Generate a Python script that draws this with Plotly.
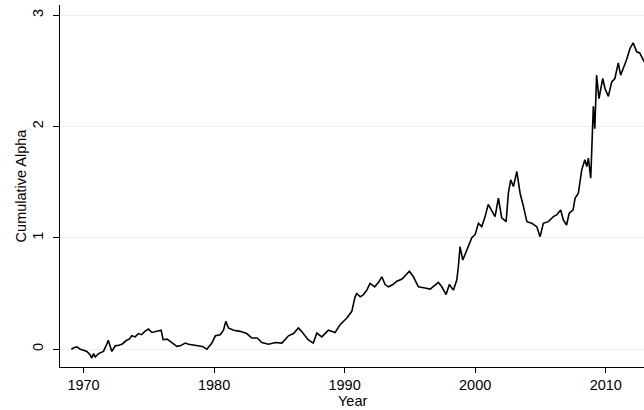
import plotly.graph_objects as go

year = [1969.07, 1969.3, 1969.5, 1969.75, 1970.0, 1970.26, 1970.5, 1970.64, 1970.77, 1970.9, 1971.15, 1971.53,
        1971.8, 1971.9, 1972.17, 1972.43, 1972.7, 1972.94, 1973.3, 1973.5, 1973.7, 1973.95, 1974.2, 1974.45, 1974.7, 1974.98,
        1975.24, 1975.6, 1975.95, 1976.1, 1976.4, 1976.64, 1977.15, 1977.4, 1977.8, 1978.05, 1978.3, 1978.8,
        1979.1, 1979.45, 1979.83, 1980.1, 1980.47, 1980.72, 1980.9, 1981.1, 1981.5, 1982.0, 1982.5,
        1982.9, 1983.3, 1983.66, 1984.17, 1984.7, 1985.2, 1985.7, 1986.08, 1986.46, 1986.7,
        1987.2, 1987.6, 1987.87, 1988.25, 1988.76, 1989.27, 1989.66, 1990.17, 1990.55, 1990.8,
        1990.93, 1991.2, 1991.44, 1991.7, 1991.95, 1992.3, 1992.6, 1992.85, 1993.1, 1993.35, 1993.7, 1994.0, 1994.4, 1994.76, 1994.96,
        1995.27, 1995.65, 1996.16, 1996.55, 1997.18, 1997.44, 1997.77, 1998.02, 1998.33, 1998.59,
        1998.71, 1998.84, 1999.05, 1999.36, 1999.74, 2000.0, 2000.25, 2000.5, 2000.76, 2001.0,
        2001.27, 2001.52, 2001.78, 2002.03, 2002.37, 2002.54, 2002.72, 2002.93, 2003.19, 2003.44,
        2003.7, 2003.96, 2004.33, 2004.72, 2004.97, 2005.22, 2005.6, 2005.99, 2006.24, 2006.55,
        2006.75, 2007.0, 2007.2, 2007.5, 2007.65, 2007.9, 2008.16, 2008.4, 2008.55, 2008.67,
        2008.85, 2008.93, 2009.05, 2009.16, 2009.3, 2009.48, 2009.77, 2009.94, 2010.2, 2010.46,
        2010.7, 2010.96, 2011.14, 2011.34, 2011.6, 2011.86, 2012.1, 2012.37, 2012.6, 2012.95]

alpha = [0.0, 0.015, 0.02, 0.0, -0.01, -0.02, -0.05, -0.08, -0.04, -0.07, -0.04, -0.02,
         0.05, 0.08, -0.02, 0.03, 0.035, 0.045, 0.08, 0.09, 0.12, 0.11, 0.14, 0.13, 0.16, 0.18,
         0.15, 0.16, 0.17, 0.085, 0.09, 0.07, 0.025, 0.03, 0.055, 0.045, 0.04, 0.03,
         0.025, 0.0, 0.055, 0.12, 0.13, 0.17, 0.25, 0.19, 0.17, 0.16, 0.14,
         0.10, 0.10, 0.06, 0.045, 0.06, 0.055, 0.12, 0.14, 0.19, 0.16,
         0.085, 0.055, 0.145, 0.11, 0.17, 0.15, 0.22, 0.28, 0.34, 0.47,
         0.50, 0.47, 0.49, 0.53, 0.59, 0.56, 0.60, 0.65, 0.58, 0.56, 0.58, 0.61, 0.63, 0.68, 0.70,
         0.65, 0.56, 0.55, 0.54, 0.60, 0.56, 0.49, 0.58, 0.53, 0.62,
         0.74, 0.92, 0.80, 0.89, 1.0, 1.03, 1.13, 1.10, 1.19, 1.30,
         1.235, 1.19, 1.355, 1.18, 1.145, 1.40, 1.52, 1.46, 1.595, 1.40,
         1.28, 1.145, 1.13, 1.10, 1.01, 1.13, 1.145, 1.19, 1.205, 1.25,
         1.16, 1.115, 1.22, 1.25, 1.355, 1.40, 1.61, 1.70, 1.64, 1.715,
         1.535, 1.88, 2.18, 1.98, 2.46, 2.25, 2.43, 2.34, 2.27, 2.40,
         2.43, 2.57, 2.46, 2.52, 2.60, 2.70, 2.75, 2.67, 2.66, 2.58]

x_ticks = [1970, 1980, 1990, 2000, 2010]
y_ticks = [0, 1, 2, 3]

font = "Liberation Sans, Arial, Helvetica, sans-serif"

fig = go.Figure(go.Scatter(x=year, y=alpha, mode="lines",
                           line=dict(color="black", width=1.6),
                           showlegend=False, hoverinfo="skip"))

fig.update_layout(
    width=644, height=410,
    margin=dict(l=60, r=0, t=5, b=43),
    paper_bgcolor="white", plot_bgcolor="white",
    font=dict(family=font, size=14.5, color="black"),
)
fig.update_xaxes(
    range=[1968.2, 2012.93], tickvals=x_ticks, ticktext=[str(v) for v in x_ticks],
    showgrid=False, zeroline=False, showline=True, linecolor="black", linewidth=1,
    ticks="outside", ticklen=5, tickcolor="black", tickwidth=1,
    ticklabelstandoff=0,
)
fig.update_yaxes(
    range=[-0.16, 3.09], tickvals=y_ticks, ticktext=[str(v) for v in y_ticks],
    tickangle=-90, showgrid=True, gridcolor="#eaf0f2", gridwidth=1,
    zeroline=False, showline=True, linecolor="black", linewidth=1,
    ticks="outside", ticklen=6, tickcolor="black", tickwidth=1,
    ticklabelstandoff=4,
    title=dict(text="Cumulative Alpha", standoff=0, font=dict(size=14.5)),
)
fig.add_annotation(text="Year", xref="paper", yref="paper", x=0.5, y=-0.069,
                   xanchor="center", yanchor="top", showarrow=False,
                   font=dict(size=14.5), borderpad=0)

fig.write_html("out.html", config={"displayModeBar": False},
               post_script="document.body.style.margin='0';")
